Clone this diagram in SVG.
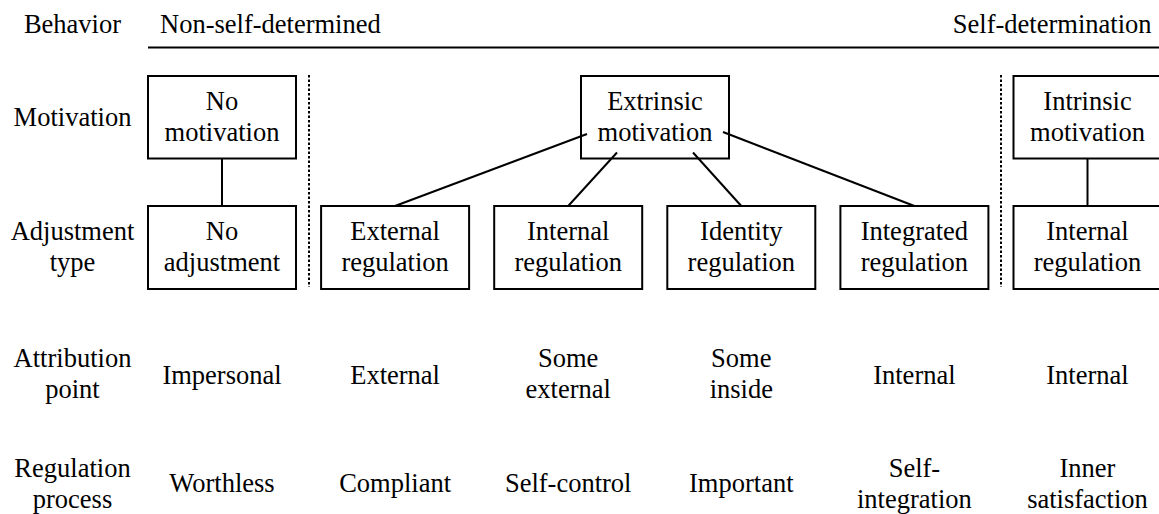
<svg xmlns="http://www.w3.org/2000/svg" width="1159" height="514" viewBox="0 0 1159 514">
<style>
text{font-family:'Liberation Serif',Tinos,'Times New Roman',Times,'Nimbus Roman','DejaVu Serif',serif;font-size:26.5px;fill:#000;text-anchor:middle}
.box{fill:#fff;stroke:#000;stroke-width:2}
.conn{stroke:#000;stroke-width:2;fill:none}
.dot{stroke:#000;stroke-width:2;stroke-dasharray:2.5 2;fill:none}
</style>
<rect width="1159" height="514" fill="#fff"/>
<g id="row-labels">
<text x="72.5" y="33">Behavior</text>
<text x="72.5" y="125.5">Motivation</text>
<text x="72.5" y="240">Adjustment</text>
<text x="72.5" y="271">type</text>
<text x="72.5" y="367">Attribution</text>
<text x="72.5" y="398">point</text>
<text x="72.5" y="476.5">Regulation</text>
<text x="72.5" y="507.5">process</text>
</g>
<g id="behavior-axis">
<line class="conn" x1="148" y1="47.5" x2="1159" y2="47.5"/>
<text x="160" y="33" style="text-anchor:start">Non-self-determined</text>
<text x="1151.5" y="33" style="text-anchor:end">Self-determination</text>
</g>
<g id="dividers">
<line class="dot" x1="309" y1="75" x2="309" y2="287"/>
<line class="dot" x1="1001" y1="75" x2="1001" y2="287"/>
</g>
<g id="connectors">
<line class="conn" x1="222" y1="158" x2="222" y2="206"/>
<line class="conn" x1="1087.5" y1="158" x2="1087.5" y2="206"/>
<line class="conn" x1="587" y1="134" x2="395" y2="206"/>
<line class="conn" x1="617" y1="152.5" x2="568.2" y2="206"/>
<line class="conn" x1="693" y1="152.5" x2="741.3" y2="206"/>
<line class="conn" x1="723" y1="132" x2="914.4" y2="206"/>
</g>
<g id="no-motivation">
<rect class="box" x="148" y="76" width="148" height="82.5"/>
<text x="222" y="109.5">No</text>
<text x="222" y="140.5">motivation</text>
</g>
<g id="extrinsic-motivation">
<path class="box" d="M581 76H729V158.5H581Z" style="fill:none"/>
<text x="655" y="109.5">Extrinsic</text>
<text x="655" y="140.5">motivation</text>
</g>
<g id="intrinsic-motivation">
<rect class="box" x="1013.5" y="76" width="148" height="82.5"/>
<text x="1087.5" y="109.5">Intrinsic</text>
<text x="1087.5" y="140.5">motivation</text>
</g>
<g id="no-adjustment">
<rect class="box" x="148" y="206" width="148" height="83"/>
<text x="222" y="240">No</text>
<text x="222" y="271">adjustment</text>
</g>
<g id="external-regulation">
<rect class="box" x="321.1" y="206" width="148" height="83"/>
<text x="395.1" y="240">External</text>
<text x="395.1" y="271">regulation</text>
</g>
<g id="internal-regulation">
<rect class="box" x="494.2" y="206" width="148" height="83"/>
<text x="568.2" y="240">Internal</text>
<text x="568.2" y="271">regulation</text>
</g>
<g id="identity-regulation">
<rect class="box" x="667.3" y="206" width="148" height="83"/>
<text x="741.3" y="240">Identity</text>
<text x="741.3" y="271">regulation</text>
</g>
<g id="integrated-regulation">
<rect class="box" x="840.4" y="206" width="148" height="83"/>
<text x="914.4" y="240">Integrated</text>
<text x="914.4" y="271">regulation</text>
</g>
<g id="internal-regulation-2">
<rect class="box" x="1013.5" y="206" width="148" height="83"/>
<text x="1087.5" y="240">Internal</text>
<text x="1087.5" y="271">regulation</text>
</g>
<g id="attribution-row">
<text x="222" y="383.5">Impersonal</text>
<text x="395.1" y="383.5">External</text>
<text x="568.2" y="367">Some</text>
<text x="568.2" y="398">external</text>
<text x="741.3" y="367">Some</text>
<text x="741.3" y="398">inside</text>
<text x="914.4" y="383.5">Internal</text>
<text x="1087.5" y="383.5">Internal</text>
</g>
<g id="regulation-row">
<text x="222" y="492">Worthless</text>
<text x="395.1" y="492">Compliant</text>
<text x="568.2" y="492">Self-control</text>
<text x="741.3" y="492">Important</text>
<text x="914.4" y="476.5">Self-</text>
<text x="914.4" y="507.5">integration</text>
<text x="1087.5" y="476.5">Inner</text>
<text x="1087.5" y="507.5">satisfaction</text>
</g>
</svg>
